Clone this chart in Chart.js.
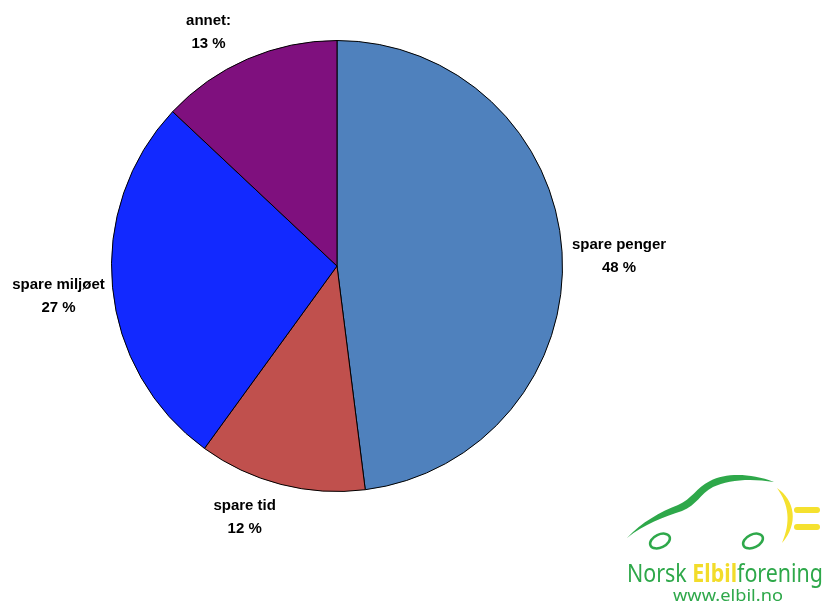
<!DOCTYPE html>
<html>
<head>
<meta charset="utf-8">
<script src="https://cdn.jsdelivr.net/npm/chart.js@4/dist/chart.umd.min.js"></script>
<style>
  html, body { margin: 0; padding: 0; background: #fff; }
  #wrap { position: relative; width: 825px; height: 605px; }
  #logo { position: absolute; left: 600px; top: 460px; }
</style>
</head>
<body>
<div id="wrap">
  <canvas id="chartMotiv" width="825" height="605"></canvas>
  <svg id="logo" width="225" height="145" viewBox="0 0 225 145">
    <!-- bil -->
    <path d="M27 78 C42 62 60 52 78 45 C92 39 96 28 110 21 C126 13 150 13 174 22 C150 18 128 20 113 27 C100 34 97 45 82 51 C64 57 44 64 27 78 Z" fill="#2ea84a"/>
    <ellipse cx="60" cy="81" rx="10.5" ry="6.5" transform="rotate(-25 60 81)" fill="none" stroke="#2ea84a" stroke-width="2.5"/>
    <ellipse cx="153" cy="81" rx="10.5" ry="6.5" transform="rotate(-25 153 81)" fill="none" stroke="#2ea84a" stroke-width="2.5"/>
    <!-- støpsel -->
    <path d="M177 28 C195 40 199 64 182 83 C191 62 189 45 177 28 Z" fill="#f5e12f"/>
    <rect x="194" y="47" width="26" height="6" rx="3" fill="#f5e12f"/>
    <rect x="194" y="64" width="26" height="6" rx="3" fill="#f5e12f"/>
    <text x="27" y="122" font-family="Noto Sans, sans-serif" font-size="25" fill="#2ea84a" textLength="196" lengthAdjust="spacingAndGlyphs">Norsk <tspan fill="#f2dc2a" font-weight="bold">Elbil</tspan>forening</text>
    <text x="73" y="141" font-family="Noto Sans, sans-serif" font-size="17" fill="#2ea84a" textLength="110" lengthAdjust="spacingAndGlyphs">www.elbil.no</text>
  </svg>
</div>
<script>
// fordeling av svar
const kategorier = ["spare penger", "spare tid", "spare miljøet", "annet:"];
const andeler = [48, 12, 27, 13];
const farger = ["#4f81bd", "#c0504d", "#1229ff", "#7f107e"];

// justering av etikettene (piksler)
const etikettJustering = [[0, 7], [-26, 1], [2, 6], [-26, 4]];

// etiketter utenfor hver sektor: navn + prosent
const etiketter = {
    id: "etiketter",
    afterDatasetsDraw(chart) {
        const ctx = chart.ctx;
        const meta = chart.getDatasetMeta(0);
        const linje = 23;
        ctx.save();
        ctx.font = "bold 15px 'Liberation Sans', Arial, sans-serif";
        ctx.fillStyle = "#000";
        ctx.textAlign = "center";
        ctx.textBaseline = "middle";
        meta.data.forEach((arc, i) => {
            const p = arc.getProps(["x", "y", "startAngle", "endAngle", "outerRadius"], true);
            const mid = (p.startAngle + p.endAngle) / 2;
            const tekst = [kategorier[i], andeler[i] + " %"];
            const b = Math.max(...tekst.map(t => ctx.measureText(t).width));
            const h = linje * 2;
            const r = p.outerRadius + 10;
            const x = p.x + Math.cos(mid) * r + Math.cos(mid) * b / 2 + etikettJustering[i][0];
            const y = p.y + Math.sin(mid) * r + Math.sin(mid) * h / 2 + etikettJustering[i][1];
            ctx.fillText(tekst[0], x, y - linje / 2);
            ctx.fillText(tekst[1], x, y + linje / 2);
        });
        ctx.restore();
    }
};

new Chart(document.getElementById("chartMotiv"), {
    type: "pie",
    data: {
        labels: kategorier,
        datasets: [{
            data: andeler,
            backgroundColor: farger,
            borderColor: "#000",
            borderWidth: 1
        }]
    },
    options: {
        responsive: false,
        animation: false,
        layout: { padding: { left: 111, right: 262, top: 40, bottom: 113 } },
        plugins: {
            legend: { display: false },
            tooltip: { enabled: false }
        }
    },
    plugins: [etiketter]
});
</script>
</body>
</html>
